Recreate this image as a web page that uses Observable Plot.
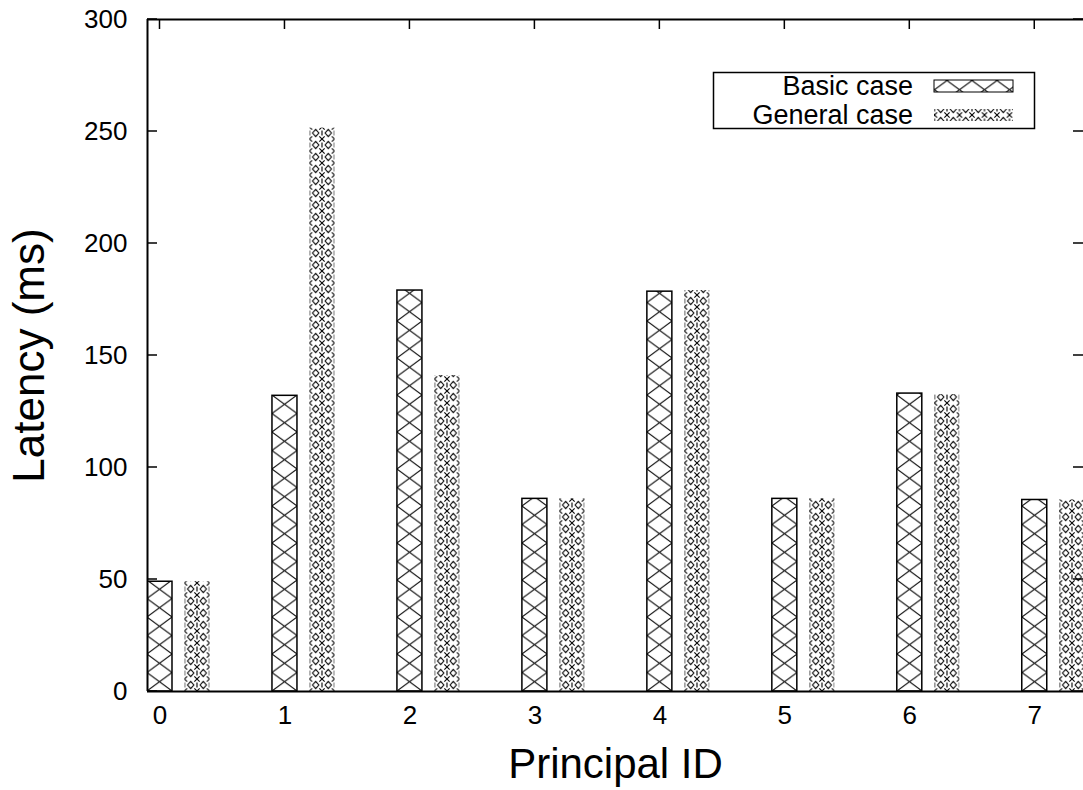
<!DOCTYPE html>
<html><head><meta charset="utf-8">
<script src="https://cdn.jsdelivr.net/npm/d3@7"></script>
<script src="https://cdn.jsdelivr.net/npm/@observablehq/plot@0.6"></script>
<style>
html,body{margin:0;padding:0;background:#fff;overflow:hidden}
#wrap{position:relative;width:1083px;height:790px}
#legend{position:absolute;left:0;top:0;pointer-events:none}
</style></head><body><div id="wrap"></div>
<script>
const principalIds = [0, 1, 2, 3, 4, 5, 6, 7];
const basicLatency = [49, 132, 179, 86, 178.5, 86, 133, 85.5];
const generalLatency = [49, 251.5, 141, 86, 179, 86, 132.5, 85.5];
const seriesNames = ["Basic case", "General case"];
const yTicks = [0, 50, 100, 150, 200, 250, 300];
const xLabel = "Principal ID";
const yLabel = "Latency (ms)";

const basicData = principalIds.map((id, i) => ({id, latency: basicLatency[i]}));
const generalData = principalIds.map((id, i) => ({id, latency: generalLatency[i]}));
const xDomain = [-0.1, 7.39];
const yDomain = [0, 300];
const W = 1083, H = 790;
const tickLen = 10;
const font = '"Liberation Sans", Arial, Helvetica, sans-serif';

const plot = Plot.plot({
  width: W, height: H,
  marginLeft: 147, marginRight: 0, marginTop: 19, marginBottom: 99,
  style: {fontFamily: font, background: "#fff", color: "#000", overflow: "visible"},
  x: {domain: xDomain},
  y: {domain: yDomain},
  marks: [
    Plot.rectY(basicData, {x1: d => d.id - 0.1, x2: d => d.id + 0.1, y1: 0, y2: "latency",
      fill: "url(#pat-basic)", stroke: "#000", strokeWidth: 1.5, clip: true}),
    Plot.rectY(generalData, {x1: d => d.id + 0.2, x2: d => d.id + 0.4, y1: 0, y2: "latency",
      fill: "url(#pat-general)", clip: true}),
    Plot.ruleX([xDomain[0]], {stroke: "#000", strokeWidth: 2}),
    Plot.ruleY(yDomain, {stroke: "#000", strokeWidth: 2}),
    Plot.axisY(yTicks, {anchor: "left", tickSize: 0, tickPadding: 20, fontSize: 26, label: null}),
    Plot.axisX(principalIds, {anchor: "bottom", tickSize: 0, tickPadding: 14, fontSize: 26, label: null, tickFormat: d => String(d)}),
    Plot.text([xLabel], {frameAnchor: "bottom", dy: 86, fontSize: 42, lineAnchor: "bottom", textAnchor: "middle"}),
    Plot.text([yLabel], {frameAnchor: "left", dx: -104, rotate: -90, fontSize: 44, lineAnchor: "bottom", textAnchor: "middle"})
  ]
});

const wrap = document.getElementById("wrap");
wrap.appendChild(plot);

const svg = d3.select(plot);
const sx = plot.scale("x"), sy = plot.scale("y");
const x0 = sx.apply(xDomain[0]), x1 = sx.apply(xDomain[1]);
const y0 = sy.apply(yDomain[0]), y1 = sy.apply(yDomain[1]);

// inward tick marks on left, right and top borders, positioned by Plot's scales
const tg = svg.append("g").attr("stroke", "#000").attr("stroke-width", 1.5);
yTicks.forEach(v => {
  const y = sy.apply(v);
  tg.append("line").attr("x1", x0).attr("x2", x0 + tickLen).attr("y1", y).attr("y2", y);
  tg.append("line").attr("x1", x1 - tickLen).attr("x2", x1).attr("y1", y).attr("y2", y);
});
principalIds.forEach(v => {
  const x = sx.apply(v);
  tg.append("line").attr("x1", x).attr("x2", x).attr("y1", y1).attr("y2", y1 + tickLen);
});

const defs = svg.insert("defs", ":first-child");
const pb = defs.append("pattern").attr("id", "pat-basic").attr("patternUnits", "userSpaceOnUse")
  .attr("x", x0).attr("y", y0).attr("width", 25).attr("height", 18.5);
pb.append("rect").attr("width", 25).attr("height", 18.5).attr("fill", "#fff");
pb.append("path").attr("d", "M0,0L25,18.5M0,18.5L25,0").attr("stroke", "#111").attr("stroke-width", 1.1).attr("fill", "none");

const pg = defs.append("pattern").attr("id", "pat-general").attr("patternUnits", "userSpaceOnUse")
  .attr("x", sx.apply(0.2)).attr("y", y0).attr("width", 12.5).attr("height", 12);
pg.append("rect").attr("width", 12.5).attr("height", 12).attr("fill", "#fff");
pg.append("path").attr("d", "M6.25,2.3L9.4,6L6.25,9.7L3.1,6Z M0,0L2.6,2.6M12.5,0L9.9,2.6M0,12L2.6,9.4M12.5,12L9.9,9.4 M0,3.6L0,8.4M12.5,3.6L12.5,8.4")
  .attr("stroke", "#000").attr("stroke-width", 1.1).attr("fill", "none");

// Legend overlay
const lg = d3.select(wrap).append("svg").attr("id", "legend").attr("width", W).attr("height", H)
  .style("font-family", font);
lg.append("rect").attr("x", 713.5).attr("y", 72.5).attr("width", 321).attr("height", 56)
  .attr("fill", "#fff").attr("stroke", "#000").attr("stroke-width", 1.5);
const rowsY = [86, 115];
const sampleFill = ["url(#pat-basic)", "url(#pat-general)"];
seriesNames.forEach((name, i) => {
  lg.append("text").attr("x", 913).attr("y", rowsY[i]).attr("dy", "0.35em").attr("text-anchor", "end")
    .attr("font-size", 27).text(name);
  lg.append("rect").attr("x", 934).attr("y", rowsY[i] - 6).attr("width", 79).attr("height", 12)
    .attr("fill", sampleFill[i]).attr("stroke", i === 0 ? "#000" : "none").attr("stroke-width", 1);
});
</script>
</body></html>
